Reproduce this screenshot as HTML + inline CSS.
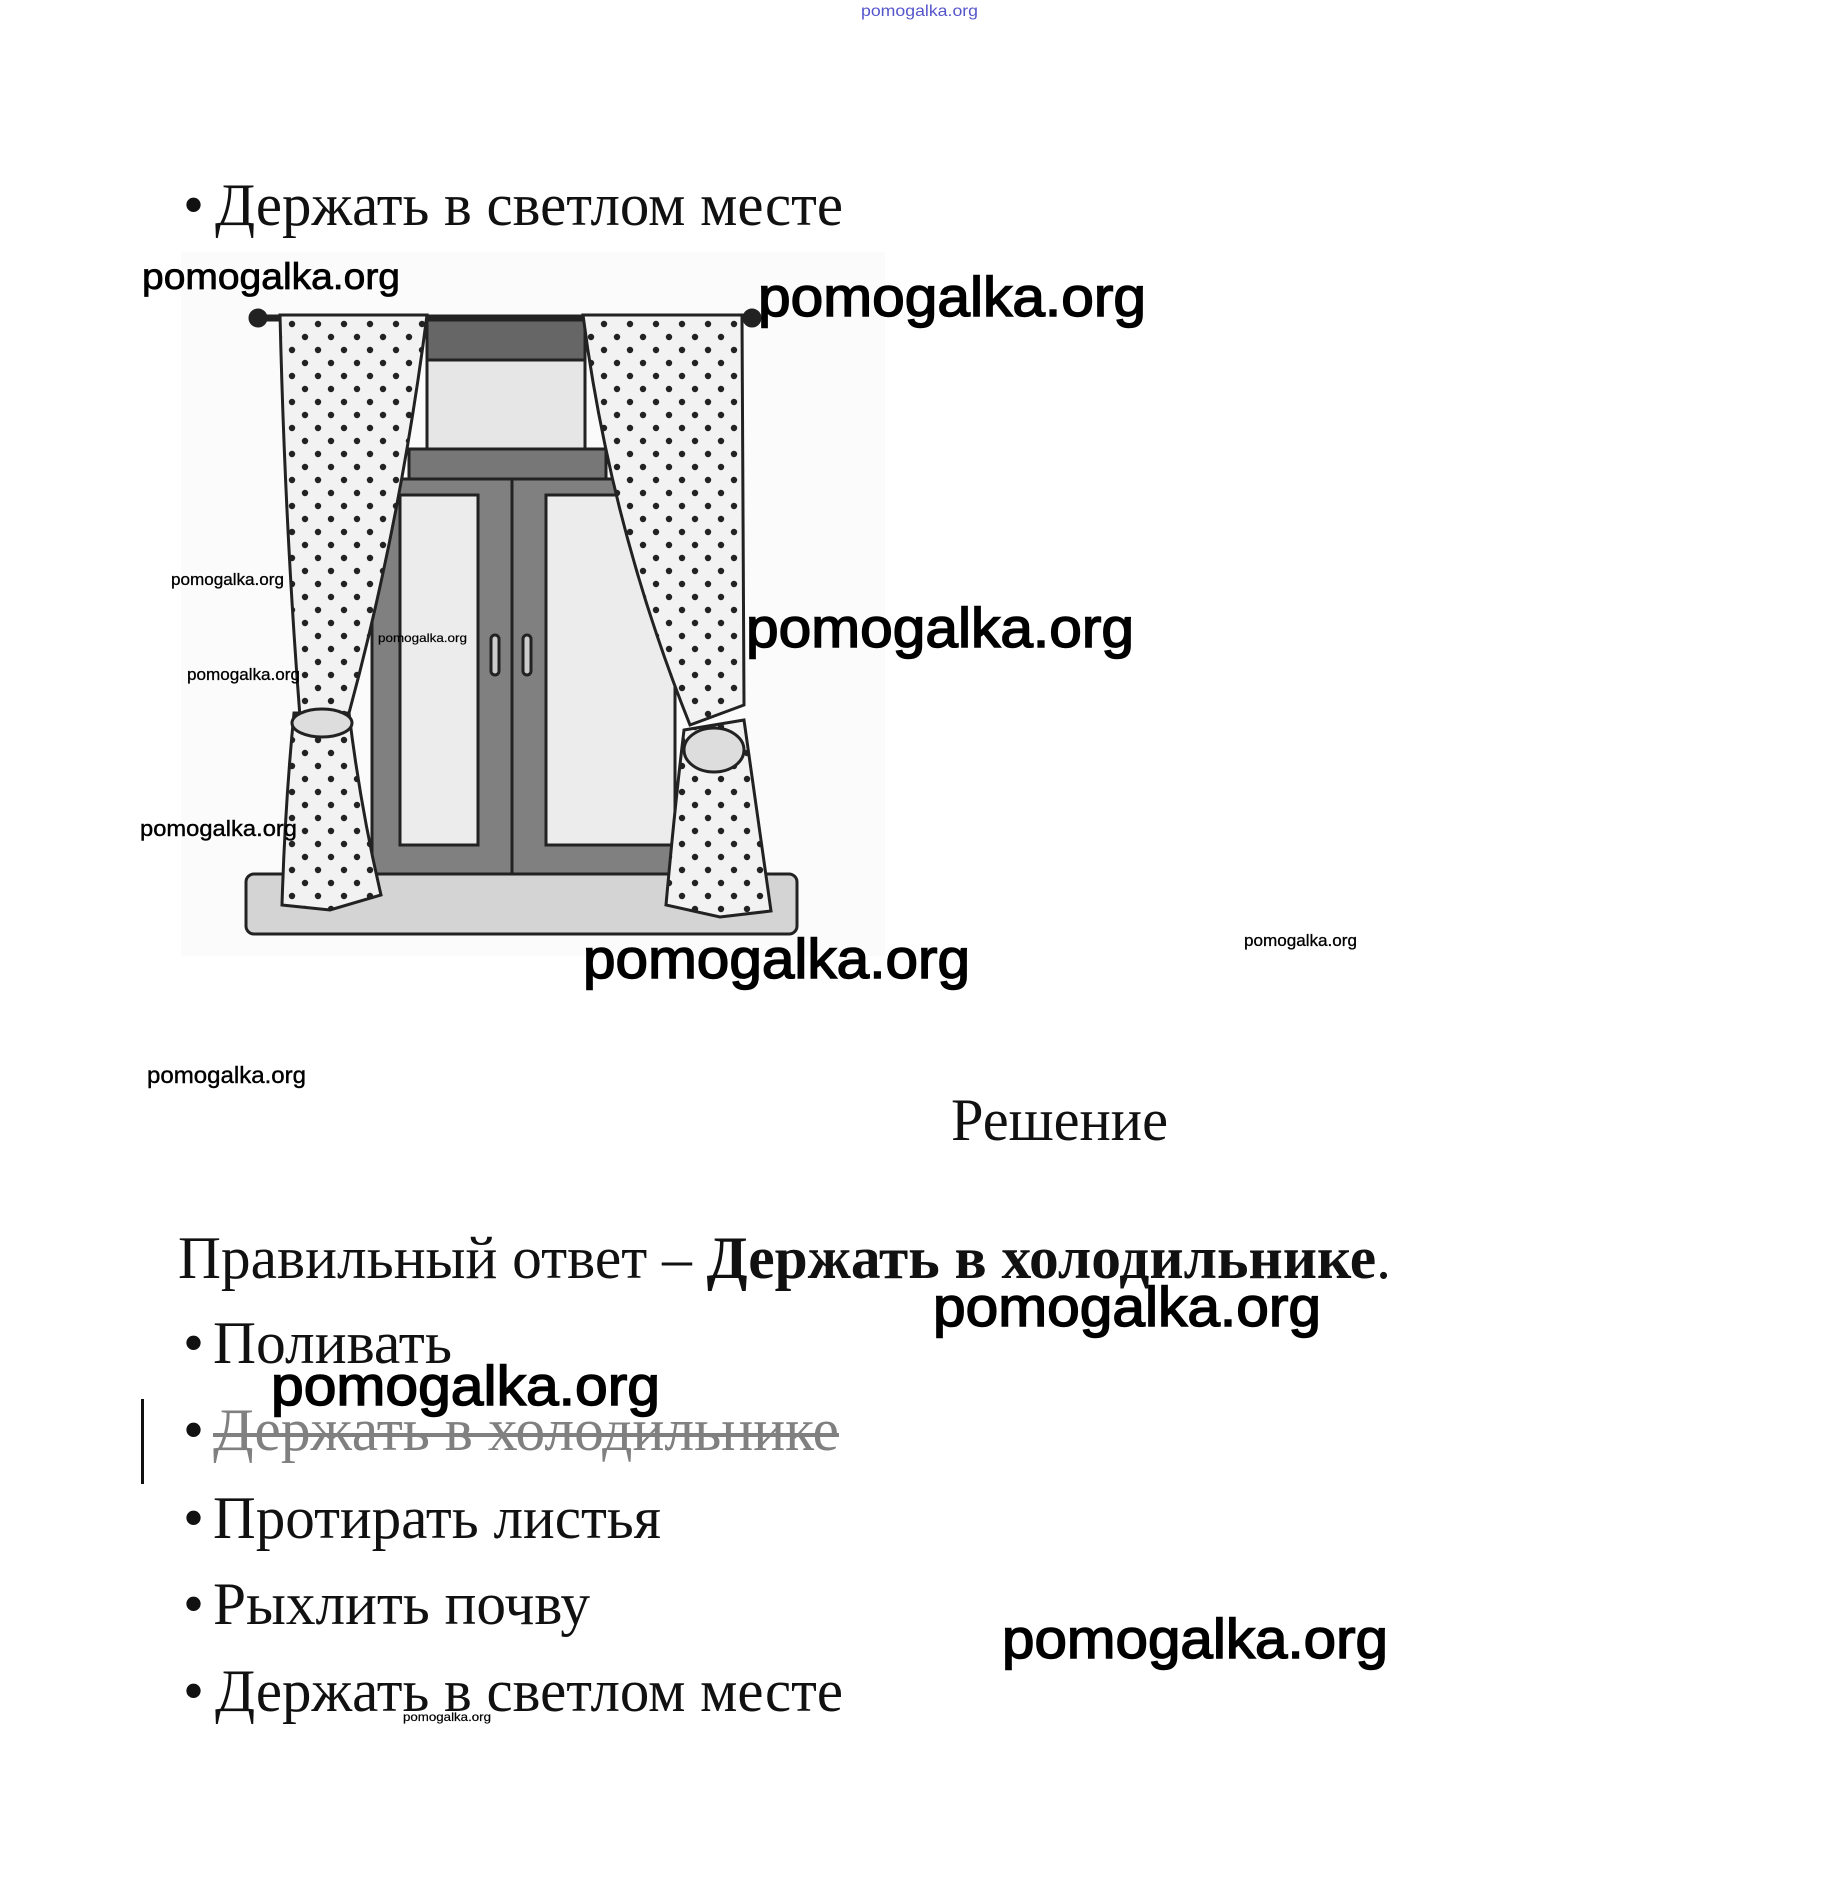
<!DOCTYPE html>
<html><head><meta charset="utf-8"><style>html,body{margin:0;padding:0;background:#fff}svg{display:block}</style></head>
<body>
<svg width="1842" height="1894" viewBox="0 0 1842 1894" xmlns="http://www.w3.org/2000/svg">
<defs>
<pattern id="dots" width="26" height="26" patternUnits="userSpaceOnUse">
<rect width="26" height="26" fill="#f2f2f2"/>
<circle cx="6" cy="7" r="3.2" fill="#222"/>
<circle cx="19" cy="20" r="3.2" fill="#222"/>
</pattern>
</defs>
<g transform="translate(0,5)">
<g font-family="Liberation Serif, serif" font-size="60" fill="#111">
<text x="183" y="220">•</text>
<text x="215" y="220" textLength="628" lengthAdjust="spacingAndGlyphs">Держать в светлом месте</text>
<text x="951" y="1135" textLength="217" lengthAdjust="spacingAndGlyphs">Решение</text>
<text x="178" y="1273" textLength="1213" lengthAdjust="spacingAndGlyphs">Правильный ответ – <tspan font-weight="bold">Держать в холодильнике</tspan>.</text>
<text x="183" y="1358">•</text>
<text x="213" y="1358" textLength="239" lengthAdjust="spacingAndGlyphs">Поливать</text>
<text x="183" y="1445">•</text>
<text x="213" y="1445" textLength="626" lengthAdjust="spacingAndGlyphs" fill="#808080">Держать в холодильнике</text>
<text x="183" y="1533">•</text>
<text x="213" y="1533" textLength="448" lengthAdjust="spacingAndGlyphs">Протирать листья</text>
<text x="183" y="1619">•</text>
<text x="213" y="1619" textLength="377" lengthAdjust="spacingAndGlyphs">Рыхлить почву</text>
<text x="183" y="1706">•</text>
<text x="215" y="1706" textLength="628" lengthAdjust="spacingAndGlyphs">Держать в светлом месте</text>
</g>
<rect x="213" y="1428" width="626" height="4" fill="#808080"/>
<rect x="141" y="1394" width="3" height="85" fill="#111"/>

<g stroke="#222" stroke-width="3">
<rect x="181" y="247" width="704" height="704" fill="#fbfbfb" stroke="none"/>
<rect x="427" y="313" width="158" height="42" fill="#666"/>
<rect x="427" y="355" width="158" height="89" fill="#e6e6e6"/>
<rect x="409" y="444" width="197" height="30" fill="#777"/>
<rect x="372" y="474" width="303" height="395" fill="#808080"/>
<rect x="400" y="490" width="78" height="350" fill="#ececec"/>
<rect x="546" y="490" width="129" height="350" fill="#ececec"/>
<line x1="512" y1="474" x2="512" y2="869"/>
<rect x="246" y="869" width="551" height="60" rx="8" fill="#d4d4d4"/>
<line x1="258" y1="313" x2="752" y2="313" stroke-width="7"/>
<circle cx="258" cy="313" r="8" fill="#222"/>
<circle cx="752" cy="313" r="8" fill="#222"/>
<path d="M280 310 L427 310 Q400 520 349 708 L300 712 Q285 520 280 310 Z" fill="url(#dots)"/>
<path d="M294 708 L349 708 Q360 800 381 890 L330 905 L282 900 Q285 800 294 708 Z" fill="url(#dots)"/>
<ellipse cx="322" cy="718" rx="30" ry="14" fill="#ddd"/>
<path d="M583 310 L742 310 L744 700 L690 720 Q610 520 583 310 Z" fill="url(#dots)"/>
<path d="M684 725 L744 715 L771 906 L720 912 L666 900 Q675 800 684 725 Z" fill="url(#dots)"/>
<ellipse cx="714" cy="745" rx="30" ry="22" fill="#ddd"/>
<rect x="491" y="630" width="8" height="40" rx="4" fill="#ccc"/>
<rect x="523" y="630" width="8" height="40" rx="4" fill="#ccc"/>
</g>

<g font-family="Liberation Sans, sans-serif" fill="#000" stroke="#000" stroke-width="0.8">
<text x="861" y="11" font-size="16" fill="#5555cc" stroke="none" textLength="117" lengthAdjust="spacingAndGlyphs">pomogalka.org</text>
<text x="142" y="284" font-size="37" textLength="258" lengthAdjust="spacingAndGlyphs">pomogalka.org</text>
<text x="758" y="311" font-size="56" stroke-width="1.5" textLength="388" lengthAdjust="spacingAndGlyphs">pomogalka.org</text>
<text x="171" y="580" font-size="17" stroke-width="0.3" textLength="113" lengthAdjust="spacingAndGlyphs">pomogalka.org</text>
<text x="378" y="637" font-size="12" stroke-width="0.2" textLength="89" lengthAdjust="spacingAndGlyphs">pomogalka.org</text>
<text x="187" y="675" font-size="17" stroke-width="0.3" textLength="113" lengthAdjust="spacingAndGlyphs">pomogalka.org</text>
<text x="746" y="642" font-size="56" stroke-width="1.5" textLength="388" lengthAdjust="spacingAndGlyphs">pomogalka.org</text>
<text x="140" y="831" font-size="22" stroke-width="0.4" textLength="157" lengthAdjust="spacingAndGlyphs">pomogalka.org</text>
<text x="583" y="973" font-size="56" stroke-width="1.5" textLength="387" lengthAdjust="spacingAndGlyphs">pomogalka.org</text>
<text x="1244" y="941" font-size="17" stroke-width="0.3" textLength="113" lengthAdjust="spacingAndGlyphs">pomogalka.org</text>
<text x="147" y="1078" font-size="23" stroke-width="0.4" textLength="159" lengthAdjust="spacingAndGlyphs">pomogalka.org</text>
<text x="933" y="1321" font-size="56" stroke-width="1.5" textLength="388" lengthAdjust="spacingAndGlyphs">pomogalka.org</text>
<text x="271" y="1400" font-size="56" stroke-width="1.5" textLength="389" lengthAdjust="spacingAndGlyphs">pomogalka.org</text>
<text x="1002" y="1653" font-size="56" stroke-width="1.5" textLength="386" lengthAdjust="spacingAndGlyphs">pomogalka.org</text>
<text x="403" y="1716" font-size="12" stroke-width="0.2" textLength="88" lengthAdjust="spacingAndGlyphs">pomogalka.org</text>
</g>
</g>
</svg>
</body></html>
